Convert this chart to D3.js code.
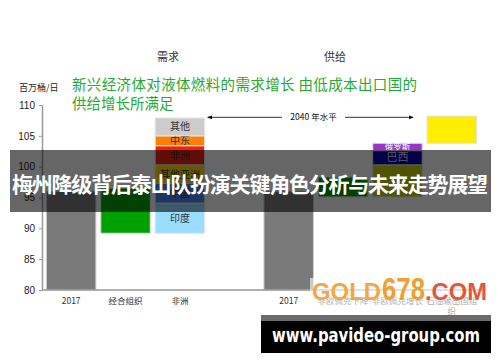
<!DOCTYPE html>
<html>
<head>
<meta charset="utf-8">
<script src="https://cdn.jsdelivr.net/npm/d3@7"></script>
<style>
  body { margin: 0; background: #fff; }
  svg { display: block; font-family: "Noto Sans CJK SC", "Liberation Sans", sans-serif; }
</style>
</head>
<body>
<svg width="500" height="362"></svg>
<script>
// bands along the x axis (one empty gap between demand and supply)
var bandKeys = ["d2017", "oecd", "nonoecd", "gap", "s2017", "nonopecDown", "nonopecUp", "opec"];
var bandLabels = ["2017", "经合组织", "非洲", "", "2017", "非欧佩克下降", "非欧佩克增长", ["石油输出国组", "织"]];

// 2017 totals
var totalKeys = ["d2017", "s2017"];
var totalVals = [96, 96];

// single floating change bars [low, high]
var changeKeys = ["oecd", "nonopecDown", "opec"];
var changeLo = [89.2, 95.1, 103.8];
var changeHi = [96.5, 98.3, 108.2];
var changeColors = ["#00a000", "#00a000", "#ffee00"];

// non-OECD demand growth, stacked from the bottom of the OECD decline
var demandSegs = ["印度", "中国", "其他亚洲", "非洲", "中东", "其他"];
var demandVals = [4.9, 3.2, 3.0, 3.1, 1.6, 2.9];
var demandColors = ["#99ddff", "#4a86f0", "#ffdc00", "#ee2211", "#ff8000", "#cccccc"];
var demandText = ["#333", "#333", "#333", "#333", "#333", "#333"];
var demandBase = 89.2;

// non-OPEC supply growth
var supplySegs = ["", "巴西", "俄罗斯"];
var supplyVals = [5.2, 2.3, 1.2];
var supplyColors = ["#c8d000", "#0000b0", "#9933cc"];
var supplyBase = 95.1;

var level2040 = 108.0;
var yTicks = [80, 85, 90, 95, 100, 105, 110];

var svg = d3.select("svg");

var x = d3.scaleBand()
    .domain(bandKeys)
    .range([41.5, 481.5])
    .padding(0.09);

var y = d3.scaleLinear()
    .domain([80, 110])
    .range([290, 105]);

// y axis
var yAxis = svg.append("g")
    .attr("transform", "translate(42,0)")
    .call(d3.axisLeft(y).tickValues(yTicks).tickSizeInner(3).tickSizeOuter(0).tickPadding(4));
yAxis.select(".domain").attr("stroke", "#999").attr("stroke-width", 1.5);
yAxis.selectAll(".tick line").attr("stroke", "#999");
yAxis.selectAll(".tick text")
    .attr("font-size", 10)
    .attr("font-family", "Liberation Sans, Arial, sans-serif")
    .attr("fill", "#222");

svg.append("text")
    .attr("x", 19).attr("y", 91)
    .attr("font-size", 9).attr("fill", "#222")
    .text("百万桶/日");

// totals
svg.selectAll(".total")
  .data(totalKeys)
  .enter().append("rect")
    .attr("class", "total")
    .attr("x", function(d){ return x(d); })
    .attr("width", x.bandwidth())
    .attr("y", function(d, i){ return y(totalVals[i]); })
    .attr("height", function(d, i){ return y(80) - y(totalVals[i]); })
    .attr("fill", "#7a7a7a")
    .attr("stroke", "#cfcfcf");

// floating changes
svg.selectAll(".change")
  .data(changeKeys)
  .enter().append("rect")
    .attr("class", "change")
    .attr("x", function(d){ return x(d); })
    .attr("width", x.bandwidth())
    .attr("y", function(d, i){ return y(changeHi[i]); })
    .attr("height", function(d, i){ return y(changeLo[i]) - y(changeHi[i]); })
    .attr("fill", function(d, i){ return changeColors[i]; })
    .attr("stroke", "#e0e0e0");

function stack(key, names, vals, colors, base, textColors, sizes) {
  var lo = base;
  names.forEach(function(name, i){
    var hi = lo + vals[i];
    svg.append("rect")
      .attr("x", x(key))
      .attr("width", x.bandwidth())
      .attr("y", y(hi))
      .attr("height", y(lo) - y(hi))
      .attr("fill", colors[i])
      .attr("stroke", "#e6e6e6");
    if (name) {
      svg.append("text")
        .attr("x", x(key) + x.bandwidth() / 2)
        .attr("y", (y(lo) + y(hi)) / 2 + 3.5)
        .attr("text-anchor", "middle")
        .attr("font-size", sizes[i])
        .attr("fill", textColors[i])
        .text(name);
    }
    lo = hi;
  });
}

stack("nonoecd", demandSegs, demandVals, demandColors, demandBase, demandText, [10, 10, 10, 10, 10, 10]);
stack("nonopecUp", supplySegs, supplyVals, supplyColors, supplyBase, ["#fff", "#dde", "#fff"], [10, 11, 8.5]);

// bottom axis line
svg.append("line")
    .attr("x1", 42).attr("x2", 486)
    .attr("y1", y(80)).attr("y2", y(80))
    .attr("stroke", "#999").attr("stroke-width", 1.5);

// x labels
bandKeys.forEach(function(k, i){
  var lab = bandLabels[i];
  if (!lab) return;
  var lines = Array.isArray(lab) ? lab : [lab];
  var t = svg.append("text")
      .attr("x", x(k) + x.bandwidth() / 2)
      .attr("y", 304)
      .attr("text-anchor", "middle")
      .attr("font-size", 8.5)
      .attr("fill", "#333");
  lines.forEach(function(l, j){
    t.append("tspan")
      .attr("x", x(k) + x.bandwidth() / 2)
      .attr("dy", j ? 10 : 0)
      .text(l);
  });
});

// 2040 level arrow
var ay = y(level2040);
var ax1 = x("nonoecd") + x.bandwidth() + 3;
var ax2 = x("opec") - 14;
var defs = svg.append("defs");
defs.append("marker")
    .attr("id", "ah")
    .attr("viewBox", "0 0 10 10")
    .attr("refX", 9).attr("refY", 5)
    .attr("markerWidth", 6).attr("markerHeight", 6)
    .attr("orient", "auto-start-reverse")
  .append("path")
    .attr("d", "M0,1L10,5L0,9z")
    .attr("fill", "#000");
svg.append("line")
    .attr("x1", ax1).attr("x2", 282).attr("y1", ay).attr("y2", ay)
    .attr("stroke", "#000").attr("stroke-width", 0.8)
    .attr("marker-start", "url(#ah)");
svg.append("line")
    .attr("x1", 345).attr("x2", ax2).attr("y1", ay).attr("y2", ay)
    .attr("stroke", "#000").attr("stroke-width", 0.8)
    .attr("marker-end", "url(#ah)");
svg.append("text")
    .attr("x", 313.5).attr("y", ay + 3)
    .attr("text-anchor", "middle")
    .attr("font-size", 8.5).attr("fill", "#111")
    .text("2040 年水平");

// headings
svg.append("text").attr("x", 168).attr("y", 61).attr("text-anchor", "middle")
    .attr("font-size", 11).attr("fill", "#333").text("需求");
svg.append("text").attr("x", 335).attr("y", 61).attr("text-anchor", "middle")
    .attr("font-size", 11).attr("fill", "#333").text("供给");

svg.append("text").attr("x", 72).attr("y", 90)
    .attr("font-size", 14.5).attr("fill", "#28a832")
    .attr("textLength", 345)
    .text("新兴经济体对液体燃料的需求增长 由低成本出口国的");
svg.append("text").attr("x", 72).attr("y", 109)
    .attr("font-size", 14.5).attr("fill", "#28a832")
    .text("供给增长所满足");

// overlay banner
svg.append("rect")
    .attr("x", 10).attr("y", 150).attr("width", 481).attr("height", 62)
    .attr("fill", "rgba(0,0,0,0.6)");
svg.append("text")
    .attr("x", 12).attr("y", 192)
    .attr("font-size", 21).attr("font-weight", "bold").attr("fill", "#fff")
    .attr("textLength", 476)
    .text("梅州降级背后泰山队扮演关键角色分析与未来走势展望");

// watermark with its faint white backing
svg.append("rect")
    .attr("x", 310).attr("y", 278).attr("width", 180).attr("height", 37)
    .attr("fill", "rgba(255,255,255,0.6)");
var wmFont = "Liberation Sans, Arial, sans-serif";
svg.append("text").attr("x", 312).attr("y", 300)
    .attr("font-family", wmFont).attr("font-size", 24).attr("font-weight", "bold")
    .attr("fill", "#f3a748")
    .attr("textLength", 69).attr("lengthAdjust", "spacingAndGlyphs")
    .text("GOLD");
svg.append("text").attr("x", 382).attr("y", 300)
    .attr("font-family", wmFont).attr("font-size", 32).attr("font-weight", "bold")
    .attr("fill", "#f0a030")
    .attr("textLength", 43).attr("lengthAdjust", "spacingAndGlyphs")
    .text("678");
svg.append("text").attr("x", 425).attr("y", 300)
    .attr("font-family", wmFont).attr("font-size", 24).attr("font-weight", "bold")
    .attr("fill", "#e4573a")
    .attr("textLength", 62).attr("lengthAdjust", "spacingAndGlyphs")
    .text(".COM");

// url bar
svg.append("rect").attr("x", 261).attr("y", 315).attr("width", 230).attr("height", 6).attr("fill", "#6a6a6a");
svg.append("rect").attr("x", 261).attr("y", 321).attr("width", 230).attr("height", 32).attr("fill", "#000");
svg.append("text")
    .attr("x", 272).attr("y", 342)
    .attr("font-family", "DejaVu Sans, sans-serif")
    .attr("font-size", 19).attr("font-weight", "bold").attr("fill", "#fff")
    .attr("textLength", 208).attr("lengthAdjust", "spacingAndGlyphs")
    .text("www.pavideo-group.com");
</script>
</body>
</html>
